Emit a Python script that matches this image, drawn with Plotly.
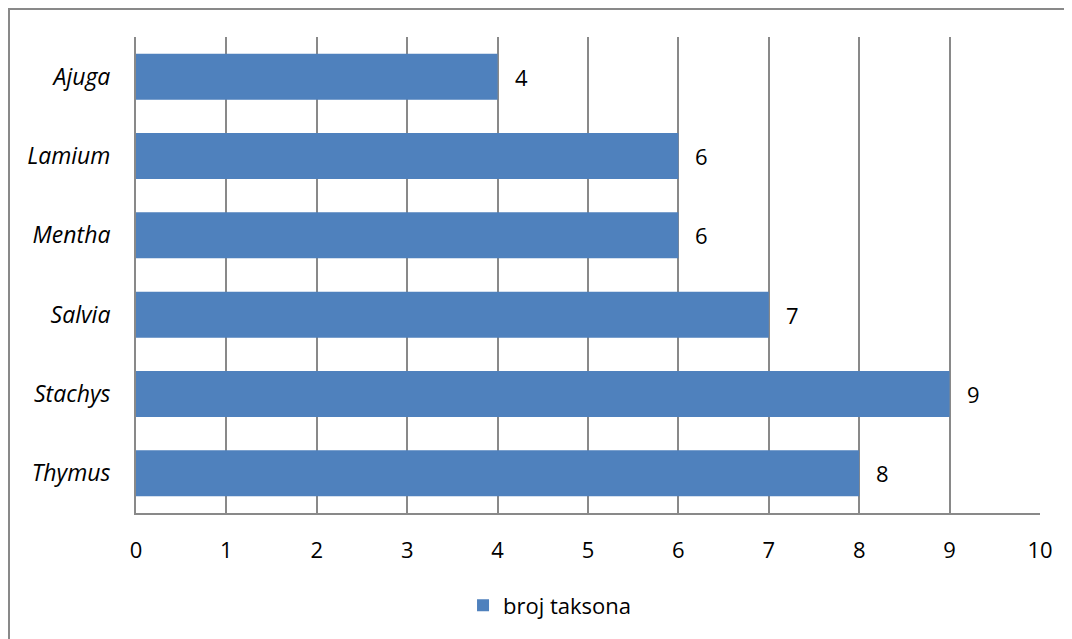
import plotly.graph_objects as go

categories = ["Ajuga", "Lamium", "Mentha", "Salvia", "Stachys", "Thymus"]
values = [4, 6, 6, 7, 9, 8]
series_name = "broj taksona"
x_ticks = list(range(0, 11))

BAR = "#4F81BD"
GRID = "#898989"
FONT = "Open Sans, Lato, sans-serif"
FS = 22

# page body has an 8px margin; size the figure so it fills the window
W, H = 1064, 631
L, T = 128, 29
PW, PH = 904, 476

fig = go.Figure()
fig.add_trace(go.Bar(
    y=categories, x=values, orientation="h", name=series_name,
    marker=dict(color=BAR, line=dict(width=0)), width=0.58,
    showlegend=True,
))

for c, v in zip(categories, values):
    fig.add_annotation(x=v, y=c, text=str(v), showarrow=False,
                       xanchor="left", xshift=15,
                       font=dict(family=FONT, size=FS, color="#000000"))

fig.update_layout(
    width=W, height=H,
    margin=dict(l=L, r=W - L - PW, t=T, b=H - T - PH),
    paper_bgcolor="white", plot_bgcolor="white",
    font=dict(family=FONT, size=FS, color="#000000"),
    xaxis=dict(range=[0, 10], tickvals=x_ticks, showgrid=True, gridcolor=GRID,
               gridwidth=2, zeroline=False, showline=True, linecolor=GRID,
               linewidth=2, mirror=False, ticks="", ticklabelstandoff=17,
               tickfont=dict(family=FONT, size=FS)),
    yaxis=dict(categoryorder="array", categoryarray=categories[::-1],
               showgrid=False, zeroline=False, showline=True, linecolor=GRID,
               linewidth=2, ticks="", ticklabelstandoff=19,
               tickfont=dict(family=FONT, size=23, style="italic")),
    legend=dict(orientation="h", x=0.458, xanchor="center", y=-0.15,
                yanchor="top", font=dict(family=FONT, size=FS),
                itemwidth=30),
)

# outer chart border (left and top visible, rest beyond the page)
fig.add_shape(type="rect", xref="paper", yref="paper",
              x0=-(L - 1) / PW, x1=1.2, y0=-0.6, y1=1 + (T - 1) / PH,
              line=dict(color=GRID, width=2), layer="below")

fig.write_html("out.html")
